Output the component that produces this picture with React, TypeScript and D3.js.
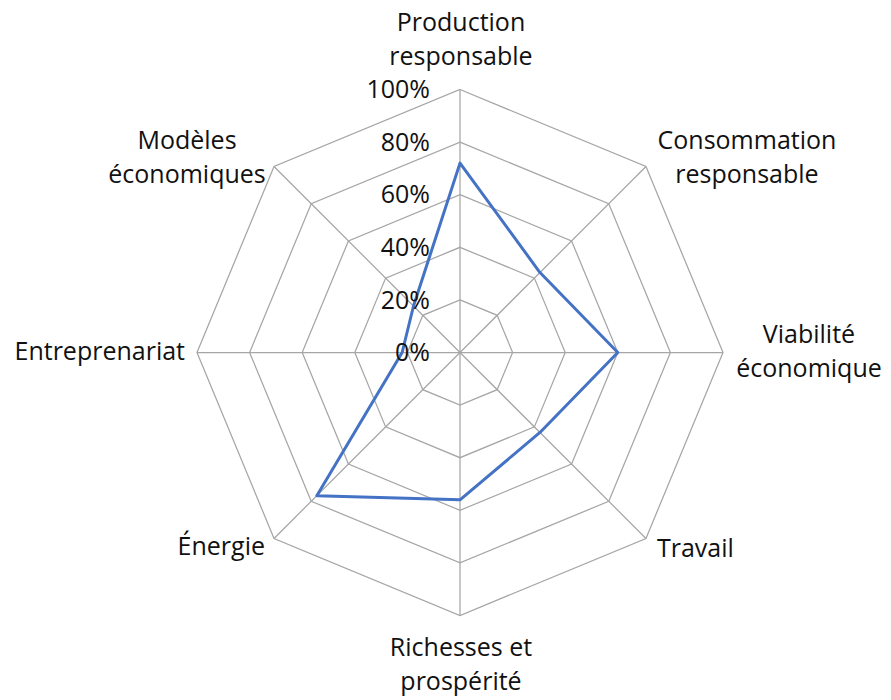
import React from "react";
import * as d3 from "d3";

const categories = [
  "Production responsable",
  "Consommation responsable",
  "Viabilité économique",
  "Travail",
  "Richesses et prospérité",
  "Énergie",
  "Entreprenariat",
  "Modèles économiques",
];
const labelLines = [
  ["Production", "responsable"],
  ["Consommation", "responsable"],
  ["Viabilité", "économique"],
  ["Travail"],
  ["Richesses et", "prospérité"],
  ["Énergie"],
  ["Entreprenariat"],
  ["Modèles", "économiques"],
];
const values = [0.72, 0.43, 0.6, 0.43, 0.56, 0.77, 0.22, 0.25];
const tickValues = [0, 0.2, 0.4, 0.6, 0.8, 1.0];
const tickLabels = ["0%", "20%", "40%", "60%", "80%", "100%"];

// label layout: anchor, dx, dy (first baseline) relative to outer vertex
const labelLayout: { anchor: string; dx: number; dy: number }[] = [
  { anchor: "middle", dx: 1, dy: -59 },
  { anchor: "middle", dx: 101, dy: -18 },
  { anchor: "middle", dx: 86, dy: -10 },
  { anchor: "start", dx: 11, dy: 19 },
  { anchor: "middle", dx: 1, dy: 40 },
  { anchor: "end", dx: -9, dy: 17 },
  { anchor: "end", dx: -12, dy: 7 },
  { anchor: "middle", dx: -87, dy: -18 },
];

const W = 891;
const H = 700;
const cx = 460;
const cy = 352.5;
const R = 263;
const FONT = "'Open Sans', sans-serif";
const LINE_H = 34.5;

export default function App() {
  const n = categories.length;
  const angle = d3
    .scalePoint<number>()
    .domain(d3.range(n + 1))
    .range([0, 2 * Math.PI]);
  const r = d3.scaleLinear().domain([0, 1]).range([0, R]);
  const pt = (i: number, v: number): [number, number] => {
    const a = angle(i)!;
    return [cx + r(v) * Math.sin(a), cy - r(v) * Math.cos(a)];
  };
  const closed = d3.line<[number, number]>().curve(d3.curveLinearClosed);

  const grid = tickValues
    .filter((t) => t > 0)
    .map((t) => closed(d3.range(n).map((i) => pt(i, t)))!);
  const dataPath = closed(values.map((v, i) => pt(i, v)))!;

  return (
    <svg
      width={W}
      height={H}
      style={{ position: "fixed", left: 0, top: 0, background: "#fff" }}
    >
      <rect width={W} height={H} fill="#fff" />
      <g fill="none" stroke="#a6a6a6" strokeWidth={1.25}>
        {grid.map((d, i) => (
          <path key={i} d={d} />
        ))}
        {d3.range(n).map((i) => {
          const [x, y] = pt(i, 1);
          return <line key={i} x1={cx} y1={cy} x2={x} y2={y} />;
        })}
      </g>
      <path
        d={dataPath}
        fill="none"
        stroke="#4472C4"
        strokeWidth={3}
        strokeLinejoin="round"
      />
      <g fontFamily={FONT} fontSize={25} fill="#111" textAnchor="end">
        {tickValues.map((t, i) => (
          <text key={i} x={430} y={cy - r(t)} dy="0.35em">
            {tickLabels[i]}
          </text>
        ))}
      </g>
      <g fontFamily={FONT} fontSize={25} fill="#111">
        {labelLines.map((lines, i) => {
          const [vx, vy] = pt(i, 1);
          const L = labelLayout[i];
          return (
            <text key={i} textAnchor={L.anchor} x={vx + L.dx} y={vy + L.dy}>
              {lines.map((ln, j) => (
                <tspan key={j} x={vx + L.dx} dy={j === 0 ? 0 : LINE_H}>
                  {ln}
                </tspan>
              ))}
            </text>
          );
        })}
      </g>
    </svg>
  );
}
